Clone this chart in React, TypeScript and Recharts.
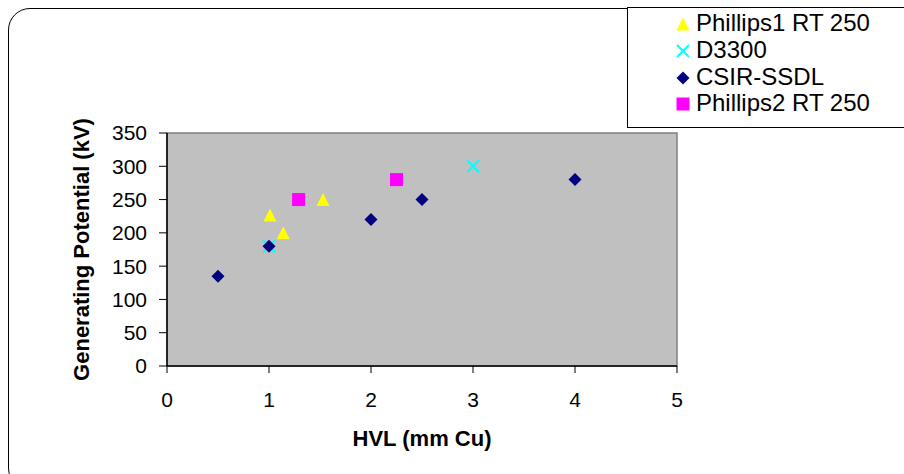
import React from 'react';
import {
  Legend,
  ReferenceArea,
  Scatter,
  ScatterChart,
  XAxis,
  YAxis,
} from 'recharts';

const FONT = '"Liberation Sans", Arial, sans-serif';

const xTicks = [0, 1, 2, 3, 4, 5];
const yTicks = [0, 50, 100, 150, 200, 250, 300, 350];

const phillips1Hvl = [1.01, 1.14, 1.53];
const phillips1Kv = [227, 200, 250];
const d3300Hvl = [1, 3];
const d3300Kv = [180, 300];
const csirHvl = [0.5, 1, 2, 2.5, 4];
const csirKv = [135, 180, 220, 250, 280];
const phillips2Hvl = [1.29, 2.25];
const phillips2Kv = [250, 280];

const toPoints = (xs: number[], ys: number[]) => xs.map((x, i) => ({ hvl: x, kv: ys[i] }));

const series = [
  { name: 'Phillips1 RT 250', color: '#FFFF00', kind: 'triangle', data: toPoints(phillips1Hvl, phillips1Kv) },
  { name: 'D3300', color: '#00FFFF', kind: 'cross', data: toPoints(d3300Hvl, d3300Kv) },
  { name: 'CSIR-SSDL', color: '#000080', kind: 'diamond', data: toPoints(csirHvl, csirKv) },
  { name: 'Phillips2 RT 250', color: '#FF00FF', kind: 'square', data: toPoints(phillips2Hvl, phillips2Kv) },
];

function Marker({ kind, color, cx, cy }: { kind: string; color: string; cx: number; cy: number }) {
  const r = 6.5;
  if (kind === 'triangle') {
    return <polygon points={`${cx},${cy - r} ${cx + r},${cy + r} ${cx - r},${cy + r}`} fill={color} />;
  }
  if (kind === 'cross') {
    return (
      <g stroke={color} strokeWidth={2}>
        <line x1={cx - 6} y1={cy - 6} x2={cx + 6} y2={cy + 6} />
        <line x1={cx - 6} y1={cy + 6} x2={cx + 6} y2={cy - 6} />
      </g>
    );
  }
  if (kind === 'diamond') {
    return <polygon points={`${cx},${cy - r} ${cx + r},${cy} ${cx},${cy + r} ${cx - r},${cy}`} fill={color} />;
  }
  return <rect x={cx - r} y={cy - r} width={2 * r} height={2 * r} fill={color} />;
}

function LegendBox() {
  return (
    <div
      style={{
        width: 290,
        height: 121,
        border: '1px solid #000',
        background: '#fff',
        boxSizing: 'border-box',
        paddingTop: 2,
        fontFamily: FONT,
        fontSize: 24,
      }}
    >
      {series.map((s) => (
        <div key={s.name} style={{ display: 'flex', alignItems: 'center', height: 26.7 }}>
          <svg width={16} height={16} style={{ marginLeft: 47, marginRight: 5 }}>
            <Marker kind={s.kind} color={s.color} cx={8} cy={9} />
          </svg>
          <span>{s.name}</span>
        </div>
      ))}
    </div>
  );
}

const YTitle = () => (
  <text
    x={89}
    y={249.5}
    transform="rotate(-90, 89, 249.5)"
    textAnchor="middle"
    fontFamily={FONT}
    fontSize={22}
    fontWeight="bold"
    fill="#000"
  >
    Generating Potential (kV)
  </text>
);

export default function App() {
  return (
    <div
      style={{
        position: 'absolute',
        left: 0,
        top: 0,
        width: 904,
        height: 474,
        overflow: 'hidden',
        background: '#fff',
      }}
    >
      <div
        style={{
          position: 'absolute',
          left: 8,
          top: 8,
          width: 900,
          height: 480,
          border: '1.5px solid #000',
          borderRadius: 22,
        }}
      />
      <ScatterChart
        width={904}
        height={474}
        margin={{ top: 133, right: 227, bottom: 0, left: 0 }}
        style={{ fontFamily: FONT }}
      >
        <ReferenceArea
          x1={0}
          x2={5}
          y1={0}
          y2={350}
          fill="#C0C0C0"
          fillOpacity={1}
          stroke="#808080"
          strokeWidth={1.5}
        />
        <XAxis
          type="number"
          dataKey="hvl"
          domain={[0, 5]}
          ticks={xTicks}
          interval={0}
          height={108}
          tickSize={7}
          tickMargin={19}
          axisLine={{ stroke: '#000', strokeWidth: 1.5 }}
          tickLine={{ stroke: '#000' }}
          tick={{ fill: '#000', fontSize: 21 }}
          label={{ value: 'HVL (mm Cu)', position: 'insideBottom', offset: 28, fill: '#000', fontSize: 22, fontWeight: 'bold' }}
        />
        <YAxis
          type="number"
          dataKey="kv"
          domain={[0, 350]}
          ticks={yTicks}
          interval={0}
          width={167}
          tickSize={8}
          tickMargin={12}
          axisLine={{ stroke: '#000', strokeWidth: 1.5 }}
          tickLine={{ stroke: '#000' }}
          tick={{ fill: '#000', fontSize: 21 }}
          label={<YTitle />}
        />
        {series.map((s) => (
          <Scatter
            key={s.name}
            name={s.name}
            data={s.data}
            fill={s.color}
            isAnimationActive={false}
            shape={(p: any) => <Marker kind={s.kind} color={s.color} cx={p.cx} cy={p.cy} />}
          />
        ))}
        <Legend
          layout="vertical"
          align="center"
          verticalAlign="middle"
          wrapperStyle={{ left: 627, top: 7, width: 290, height: 121 }}
          content={() => <LegendBox />}
        />
      </ScatterChart>
    </div>
  );
}
